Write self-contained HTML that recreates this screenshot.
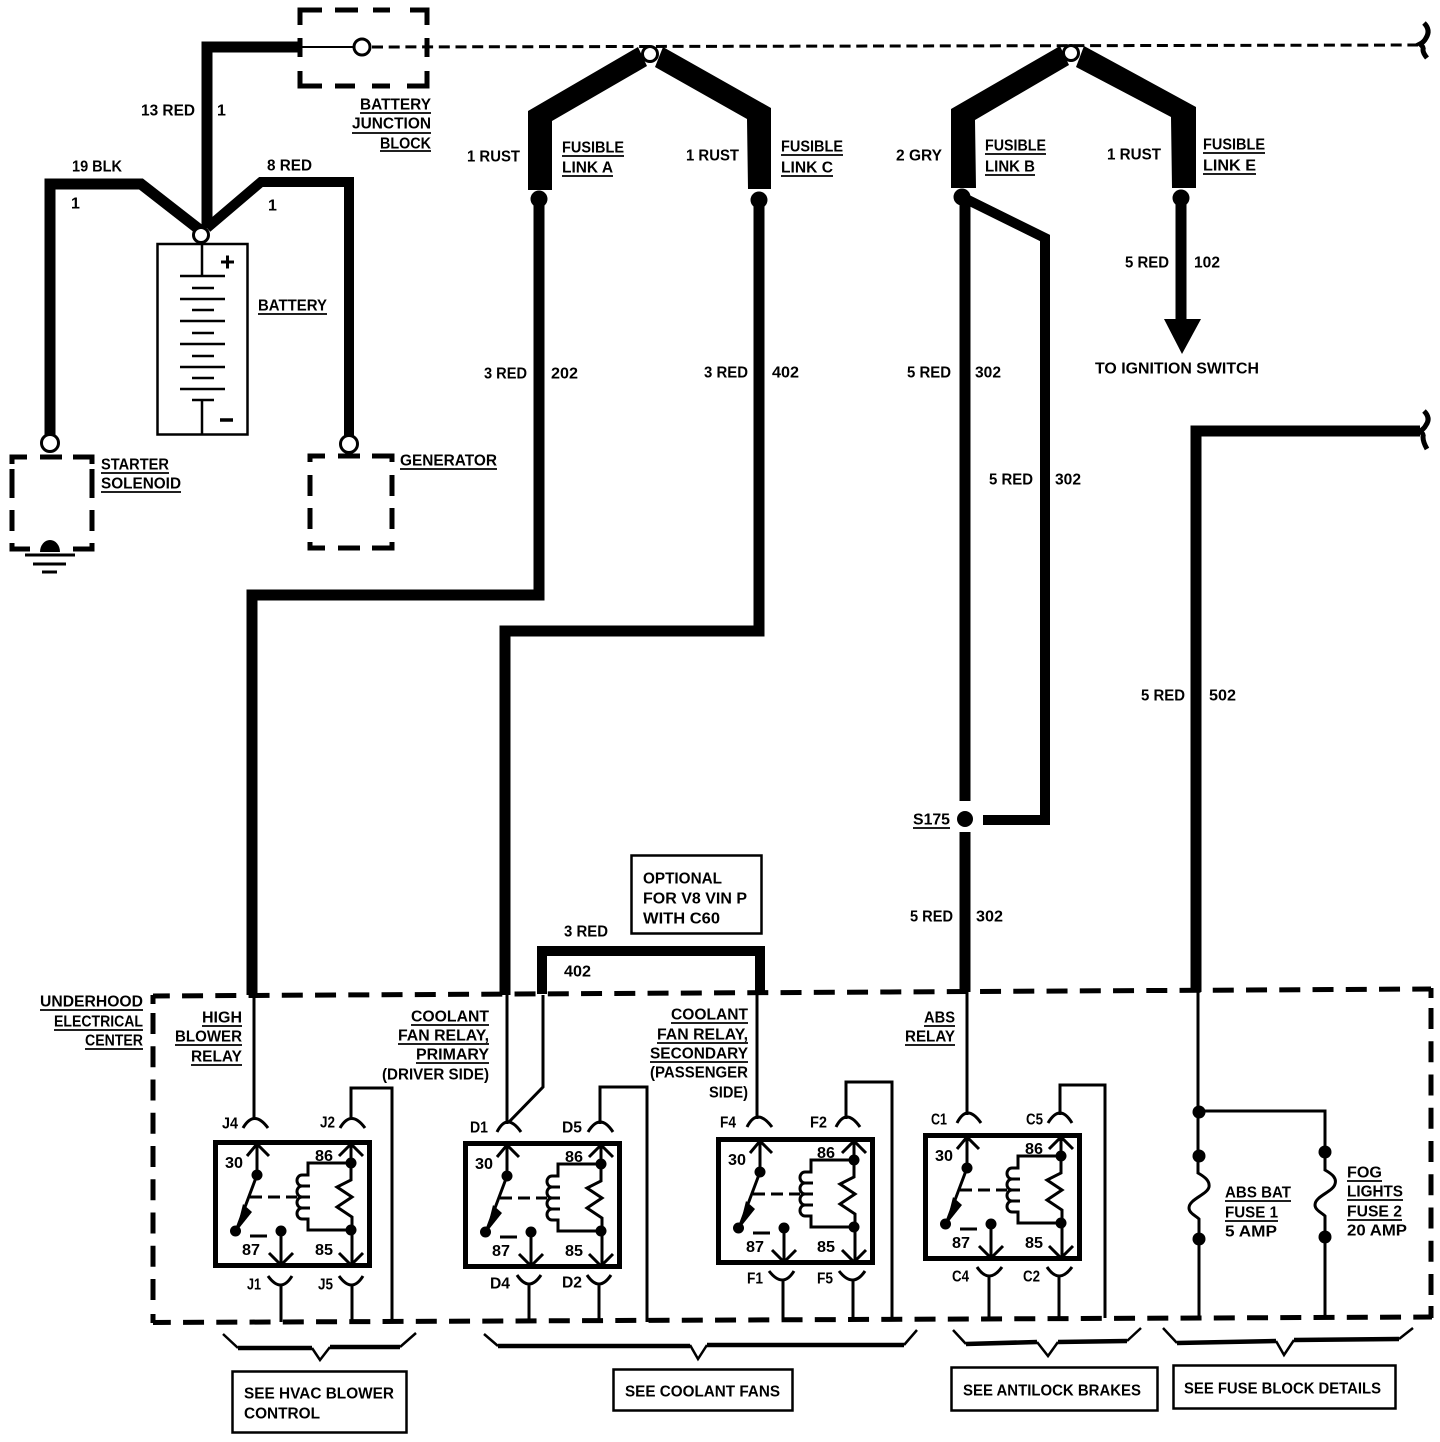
<!DOCTYPE html>
<html><head><meta charset="utf-8"><style>
html,body{margin:0;padding:0;background:#fff}
svg{display:block}
text{font-family:"Liberation Sans",sans-serif;font-weight:bold;font-size:16px;fill:#000}
.w{fill:none;stroke:#000;stroke-linejoin:miter}
.t{fill:none;stroke:#000;stroke-width:3}
.n{fill:none;stroke:#000;stroke-width:2}
.u{fill:none;stroke:#000;stroke-width:1.8}
.d{fill:none;stroke:#000;stroke-width:5;stroke-dasharray:21,12.25}
</style></head><body>
<svg width="1440" height="1442" viewBox="0 0 1440 1442" xmlns="http://www.w3.org/2000/svg">
<rect width="1440" height="1442" fill="#fff"/>

<!-- top dashed bus and braces -->
<path d="M372,47 L1418,45" fill="none" stroke="#000" stroke-width="3" stroke-dasharray="11,5.700"/>
<path class="t" d="M1424,23 Q1431,30 1426,38 Q1424,42 1420,44 Q1424,47 1423,50 Q1423,53 1427,58" style="stroke-width:5"/>
<path class="t" d="M1424,411 Q1431,418 1426,425 Q1424,429 1420,431 Q1424,434 1423,437 Q1423,442 1427,449" style="stroke-width:5"/>

<!-- junction block -->
<path class="w" stroke-width="5" d="M300,25 V10 H322 M335,10 H358 M373,10 H390 M410,10 H427 V25 M300,38 V57 M427,38 V57 M300,71 V86 H322 M335,86 H355 M372,86 H390 M407,86 H427 V71"/>
<path class="n" d="M300,47 H354"/>
<circle cx="362" cy="47" r="8" fill="#fff" stroke="#000" stroke-width="3"/>

<!-- battery wires -->
<path class="w" stroke-width="11" d="M302,47 H207 V228"/>
<path class="w" stroke-width="11" d="M50,435 V184 H141 L200,230"/>
<path class="w" stroke-width="10" d="M207,228 L261,182 H349 V442"/>
<rect x="157.500" y="244" width="90" height="190.500" fill="#fff" stroke="#000" stroke-width="2.500"/>
<circle cx="201" cy="235" r="7.500" fill="#fff" stroke="#000" stroke-width="3"/>
<path class="n" d="M202,243 V276 M180,276 H225 M192,288 H214 M180,299 H225 M192,310 H214 M180,321 H225 M192,333 H214 M180,344 H225 M192,356 H214 M180,367 H225 M192,378 H214 M180,389 H225 M192,400 H214 M202,400 V435" style="stroke-width:2.500"/>
<path d="M221,262 H234 M227.500,255.500 V268.500" fill="none" stroke="#000" stroke-width="3"/>
<path d="M220,420 H233" fill="none" stroke="#000" stroke-width="3.500"/>

<!-- starter -->
<circle cx="50" cy="443" r="8.500" fill="#fff" stroke="#000" stroke-width="3"/>
<path class="w" stroke-width="5" d="M12,464 V457 H27 M40,457 H62 M73,457 H92 V464 M12,469 V498 M92,469 V498 M12,510 V531 M92,510 V531 M12,543 V549 H30 M73,549 H92 V543"/>
<path d="M40,552 A10,12 0 0 1 60,552 Z" fill="#000"/>
<path class="t" d="M25,555 H75 M33,564 H66 M42,572 H57"/>

<!-- generator -->
<circle cx="349" cy="444" r="8.500" fill="#fff" stroke="#000" stroke-width="3"/>
<path class="w" stroke-width="5" d="M310,462 V456 H325 M338,456 H360 M372,456 H392 V462 M310,475 V496 M392,475 V496 M310,508 V529 M392,508 V529 M310,542 V548 H325 M338,548 H360 M372,548 H392 V542"/>

<!-- fusible links A, C -->
<polygon points="638,47 528,111 528,190 552,190 552,121 647,66"/>
<polygon points="663,47 771,108 771,189 748,189 747,119 655,67"/>
<circle cx="650" cy="54" r="7.500" fill="#fff" stroke="#000" stroke-width="3"/>
<circle cx="539" cy="199" r="8.500"/>
<circle cx="759" cy="200" r="8.500"/>
<!-- fusible links B, E -->
<polygon points="1060,46 951,109 951,188 976,188 975,120 1069,65"/>
<polygon points="1084,46 1196,107 1196,188 1172,188 1171,117 1076,67"/>
<circle cx="1071" cy="53" r="7.500" fill="#fff" stroke="#000" stroke-width="3"/>
<circle cx="962" cy="197" r="8.500"/>
<circle cx="1181" cy="198" r="8.500"/>

<!-- long wires -->
<path class="w" stroke-width="11" d="M539,199 V595 H252 V995"/>
<path class="w" stroke-width="11" d="M759,199 V631 H505 V995"/>
<path class="w" stroke-width="11" d="M965,197 V801"/>
<path class="w" stroke-width="10" d="M962,197 L1045,238 V820 H983"/>
<circle cx="965" cy="819" r="8"/>
<path class="w" stroke-width="11" d="M965,832 V992"/>
<path class="w" stroke-width="11" d="M1181,197 V322"/>
<polygon points="1164,319 1201,319 1182,354"/>
<path class="w" stroke-width="11" d="M1196,992 V431 H1420"/>
<path class="w" stroke-width="10" d="M542,994 V951 H760 V992"/>
<rect x="631.500" y="855.500" width="130" height="78" fill="none" stroke="#000" stroke-width="2.500"/>

<!-- underhood dashed box -->
<path class="d" stroke-dashoffset="4.200" d="M153,996 L1431,989"/>
<path class="d" d="M153,1013 V1303"/>
<path class="d" d="M1431,1008 V1298"/>
<path class="d" stroke-dashoffset="3.200" d="M153,1322.500 L1432,1317"/>
<path class="w" stroke-width="5" d="M153,1004 V995 M153,1314 V1323 M1431,998 V988 M1431,1306 V1318"/>

<!-- thin wires -->
<path class="t" d="M254,995 V1120 M351,1120 V1088 H392 V1322"/>
<path class="t" d="M507,995 V1124 M543,995 V1087 L509,1122 M600,1124 V1087 H647 V1322"/>
<path class="t" d="M757,992 V1119 M846,1119 V1082 H892 V1320"/>
<path class="t" d="M967,990 V1115 M1060,1115 V1085 H1105 V1318"/>

<!-- connector arcs top -->
<path class="t" d="M243,1128 Q254,1109 268,1128 M340,1128 Q351,1109 365,1128"/>
<path class="t" d="M497,1132 Q507,1112 521,1132 M588,1132 Q600,1112 613,1132"/>
<path class="t" d="M747,1127 Q757,1107 772,1127 M836,1127 Q846,1107 860,1127"/>
<path class="t" d="M957,1123 Q967,1103 981,1123 M1048,1123 Q1060,1103 1072,1123"/>
<!-- connector arcs bottom -->
<path class="t" d="M268,1276 Q281,1294 292,1276 M339,1276 Q352,1294 363,1276 M281,1285 V1322 M352,1285 V1322"/>
<path class="t" d="M517,1275 Q529,1293 541,1275 M587,1275 Q599,1293 611,1275 M529,1284 V1322 M599,1284 V1322"/>
<path class="t" d="M769,1271 Q783,1289 794,1271 M839,1271 Q853,1289 865,1271 M783,1280 V1320 M853,1280 V1320"/>
<path class="t" d="M977,1267 Q989,1285 1002,1267 M1047,1267 Q1059,1285 1072,1267 M989,1276 V1318 M1059,1276 V1318"/>

<!-- relay J -->
<g transform="translate(0,0)">
<rect x="215.500" y="1142.500" width="154" height="123" fill="none" stroke="#000" stroke-width="5"/>
<path class="t" d="M257,1144 V1175 L236,1231 M247,1156 L257,1144 L269,1156 M351,1144 V1180 L337,1187 L352,1197 L337,1207 L352,1217 V1265 M339,1156 L351,1144 L363,1156 M351,1163 H308 V1175 H302 A5,5.500 0 0 0 302,1186 H310 M302,1186 A5,5.500 0 0 0 302,1197 H310 M302,1197 A5,5.500 0 0 0 302,1208 H310 M302,1208 A5,5.500 0 0 0 302,1219 H308 V1230 H351 M281,1231 V1265 M269,1253 L281,1265 L293,1253 M339,1253 L351,1265 L363,1253 M250,1236 H267"/>
<path class="t" d="M250,1197 H297" stroke-dasharray="12,6"/>
<polygon points="236,1232 243,1204 252,1212"/>
<circle cx="257" cy="1175" r="5.500"/><circle cx="235.500" cy="1231" r="5.500"/><circle cx="281" cy="1231" r="5.500"/><circle cx="351" cy="1163" r="5.500"/><circle cx="351" cy="1230" r="5.500"/>
<text x="225" y="1168" textLength="18" lengthAdjust="spacingAndGlyphs">30</text>
<text x="315" y="1161" textLength="18" lengthAdjust="spacingAndGlyphs">86</text>
<text x="242" y="1255" textLength="18" lengthAdjust="spacingAndGlyphs">87</text>
<text x="315" y="1255" textLength="18" lengthAdjust="spacingAndGlyphs">85</text>
</g>
<!-- relay D -->
<g transform="translate(250,1)">
<rect x="215.500" y="1142.500" width="154" height="123" fill="none" stroke="#000" stroke-width="5"/>
<path class="t" d="M257,1144 V1175 L236,1231 M247,1156 L257,1144 L269,1156 M351,1144 V1180 L337,1187 L352,1197 L337,1207 L352,1217 V1265 M339,1156 L351,1144 L363,1156 M351,1163 H308 V1175 H302 A5,5.500 0 0 0 302,1186 H310 M302,1186 A5,5.500 0 0 0 302,1197 H310 M302,1197 A5,5.500 0 0 0 302,1208 H310 M302,1208 A5,5.500 0 0 0 302,1219 H308 V1230 H351 M281,1231 V1265 M269,1253 L281,1265 L293,1253 M339,1253 L351,1265 L363,1253 M250,1236 H267"/>
<path class="t" d="M250,1197 H297" stroke-dasharray="12,6"/>
<polygon points="236,1232 243,1204 252,1212"/>
<circle cx="257" cy="1175" r="5.500"/><circle cx="235.500" cy="1231" r="5.500"/><circle cx="281" cy="1231" r="5.500"/><circle cx="351" cy="1163" r="5.500"/><circle cx="351" cy="1230" r="5.500"/>
<text x="225" y="1168" textLength="18" lengthAdjust="spacingAndGlyphs">30</text>
<text x="315" y="1161" textLength="18" lengthAdjust="spacingAndGlyphs">86</text>
<text x="242" y="1255" textLength="18" lengthAdjust="spacingAndGlyphs">87</text>
<text x="315" y="1255" textLength="18" lengthAdjust="spacingAndGlyphs">85</text>
</g>
<!-- relay F -->
<g transform="translate(503,-3)">
<rect x="215.500" y="1142.500" width="154" height="123" fill="none" stroke="#000" stroke-width="5"/>
<path class="t" d="M257,1144 V1175 L236,1231 M247,1156 L257,1144 L269,1156 M351,1144 V1180 L337,1187 L352,1197 L337,1207 L352,1217 V1265 M339,1156 L351,1144 L363,1156 M351,1163 H308 V1175 H302 A5,5.500 0 0 0 302,1186 H310 M302,1186 A5,5.500 0 0 0 302,1197 H310 M302,1197 A5,5.500 0 0 0 302,1208 H310 M302,1208 A5,5.500 0 0 0 302,1219 H308 V1230 H351 M281,1231 V1265 M269,1253 L281,1265 L293,1253 M339,1253 L351,1265 L363,1253 M250,1236 H267"/>
<path class="t" d="M250,1197 H297" stroke-dasharray="12,6"/>
<polygon points="236,1232 243,1204 252,1212"/>
<circle cx="257" cy="1175" r="5.500"/><circle cx="235.500" cy="1231" r="5.500"/><circle cx="281" cy="1231" r="5.500"/><circle cx="351" cy="1163" r="5.500"/><circle cx="351" cy="1230" r="5.500"/>
<text x="225" y="1168" textLength="18" lengthAdjust="spacingAndGlyphs">30</text>
<text x="314" y="1161" textLength="18" lengthAdjust="spacingAndGlyphs">86</text>
<text x="243" y="1255" textLength="18" lengthAdjust="spacingAndGlyphs">87</text>
<text x="314" y="1255" textLength="18" lengthAdjust="spacingAndGlyphs">85</text>
</g>
<!-- relay C -->
<g transform="translate(710,-7)">
<rect x="215.500" y="1142.500" width="154" height="123" fill="none" stroke="#000" stroke-width="5"/>
<path class="t" d="M257,1144 V1175 L236,1231 M247,1156 L257,1144 L269,1156 M351,1144 V1180 L337,1187 L352,1197 L337,1207 L352,1217 V1265 M339,1156 L351,1144 L363,1156 M351,1163 H308 V1175 H302 A5,5.500 0 0 0 302,1186 H310 M302,1186 A5,5.500 0 0 0 302,1197 H310 M302,1197 A5,5.500 0 0 0 302,1208 H310 M302,1208 A5,5.500 0 0 0 302,1219 H308 V1230 H351 M281,1231 V1265 M269,1253 L281,1265 L293,1253 M339,1253 L351,1265 L363,1253 M250,1236 H267"/>
<path class="t" d="M250,1197 H297" stroke-dasharray="12,6"/>
<polygon points="236,1232 243,1204 252,1212"/>
<circle cx="257" cy="1175" r="5.500"/><circle cx="235.500" cy="1231" r="5.500"/><circle cx="281" cy="1231" r="5.500"/><circle cx="351" cy="1163" r="5.500"/><circle cx="351" cy="1230" r="5.500"/>
<text x="225" y="1168" textLength="18" lengthAdjust="spacingAndGlyphs">30</text>
<text x="315" y="1161" textLength="18" lengthAdjust="spacingAndGlyphs">86</text>
<text x="242" y="1255" textLength="18" lengthAdjust="spacingAndGlyphs">87</text>
<text x="315" y="1255" textLength="18" lengthAdjust="spacingAndGlyphs">85</text>
</g>

<!-- fuses -->
<path class="t" d="M1198,990 V1173 C1205,1177 1210,1181 1209,1187 C1207,1195 1189,1199 1189,1208 C1189,1213 1196,1216 1199,1219 V1318 M1199,1111 H1325 V1170 C1332,1174 1337,1178 1335,1184 C1333,1192 1315,1196 1315,1205 C1315,1210 1322,1213 1325,1216 V1318"/>
<circle cx="1199" cy="1112" r="6.500"/>
<circle cx="1199" cy="1156" r="6.500"/>
<circle cx="1199" cy="1239" r="6.500"/>
<circle cx="1325" cy="1152" r="6.500"/>
<circle cx="1325" cy="1237" r="6.500"/>

<!-- brackets -->
<path class="w" stroke-width="2.500" d="M223,1334 L238,1348 M312,1348 L320,1360 L330,1347 M400,1347 L416,1333"/>
<path class="w" stroke-width="4.500" d="M238,1348 H312 M330,1347 H400"/>
<path class="w" stroke-width="2.500" d="M484,1334 L498,1346 M690,1345 L698,1359 L707,1345 M904,1345 L917,1330"/>
<path class="w" stroke-width="4.500" d="M498,1346 H690 M707,1345 H904"/>
<path class="w" stroke-width="2.500" d="M953,1330 L966,1344 M1037,1342 L1048,1356 L1058,1342 M1127,1341 L1141,1328"/>
<path class="w" stroke-width="4.500" d="M966,1344 L1037,1342 M1058,1342 L1127,1341"/>
<path class="w" stroke-width="2.500" d="M1163,1328 L1177,1343 M1276,1341 L1284,1355 L1294,1340 M1399,1339 L1413,1328"/>
<path class="w" stroke-width="4.500" d="M1177,1343 L1276,1341 M1294,1340 L1399,1339"/>

<!-- see boxes -->
<rect x="232.500" y="1371.500" width="174" height="61" fill="none" stroke="#000" stroke-width="2.500"/>
<rect x="613.500" y="1369.500" width="179" height="41" fill="none" stroke="#000" stroke-width="2.500"/>
<rect x="951.500" y="1367.500" width="206" height="43" fill="none" stroke="#000" stroke-width="2.500"/>
<rect x="1173.500" y="1365.500" width="222" height="43" fill="none" stroke="#000" stroke-width="2.500"/>

<!-- underlines -->
<path class="u" d="M360,113 H431 M352,133 H431 M380,151 H431 M258,314 H327 M101,473 H169 M101,492 H181 M400,469 H497
M562,156 H624 M562,176 H613 M781,155 H843 M781,176 H833 M985,154 H1046 M985,175 H1035 M1203,153 H1265 M1203,174 H1256
M913,828 H950 M40,1010 H143 M54,1030 H143 M85,1049 H143
M202,1026 H242 M175,1045 H242 M191,1065 H242
M411,1025 H489 M398,1044 H489 M416,1063 H489
M671,1023 H748 M657,1043 H748 M650,1062 H748
M924,1026 H955 M905,1045 H955
M1225,1201 H1291 M1225,1221 H1278 M1347,1181 H1382 M1347,1200 H1403 M1347,1220 H1402"/>

<!-- labels -->
<g transform="translate(0,0.5)">
<text x="141" y="115" textLength="54" lengthAdjust="spacingAndGlyphs">13 RED</text>
<text x="217" y="115">1</text>
<text x="360" y="109" textLength="71" lengthAdjust="spacingAndGlyphs">BATTERY</text>
<text x="352" y="128" textLength="79" lengthAdjust="spacingAndGlyphs">JUNCTION</text>
<text x="380" y="148" textLength="51" lengthAdjust="spacingAndGlyphs">BLOCK</text>
<text x="72" y="171" textLength="50" lengthAdjust="spacingAndGlyphs">19 BLK</text>
<text x="71" y="208">1</text>
<text x="267" y="170" textLength="45" lengthAdjust="spacingAndGlyphs">8 RED</text>
<text x="268" y="210">1</text>
<text x="258" y="310" textLength="69" lengthAdjust="spacingAndGlyphs">BATTERY</text>
<text x="101" y="469" textLength="68" lengthAdjust="spacingAndGlyphs">STARTER</text>
<text x="101" y="488" textLength="80" lengthAdjust="spacingAndGlyphs">SOLENOID</text>
<text x="400" y="465" textLength="97" lengthAdjust="spacingAndGlyphs">GENERATOR</text>
<text x="467" y="161" textLength="53" lengthAdjust="spacingAndGlyphs">1 RUST</text>
<text x="562" y="152" textLength="62" lengthAdjust="spacingAndGlyphs">FUSIBLE</text>
<text x="562" y="172" textLength="51" lengthAdjust="spacingAndGlyphs">LINK A</text>
<text x="686" y="160" textLength="53" lengthAdjust="spacingAndGlyphs">1 RUST</text>
<text x="781" y="151" textLength="62" lengthAdjust="spacingAndGlyphs">FUSIBLE</text>
<text x="781" y="172" textLength="52" lengthAdjust="spacingAndGlyphs">LINK C</text>
<text x="896" y="160" textLength="46" lengthAdjust="spacingAndGlyphs">2 GRY</text>
<text x="985" y="150" textLength="61" lengthAdjust="spacingAndGlyphs">FUSIBLE</text>
<text x="985" y="171" textLength="50" lengthAdjust="spacingAndGlyphs">LINK B</text>
<text x="1107" y="159" textLength="54" lengthAdjust="spacingAndGlyphs">1 RUST</text>
<text x="1203" y="149" textLength="62" lengthAdjust="spacingAndGlyphs">FUSIBLE</text>
<text x="1203" y="170" textLength="53" lengthAdjust="spacingAndGlyphs">LINK E</text>
<text x="484" y="378" textLength="43" lengthAdjust="spacingAndGlyphs">3 RED</text>
<text x="551" y="378" textLength="27" lengthAdjust="spacingAndGlyphs">202</text>
<text x="704" y="377" textLength="44" lengthAdjust="spacingAndGlyphs">3 RED</text>
<text x="772" y="377" textLength="27" lengthAdjust="spacingAndGlyphs">402</text>
<text x="907" y="377" textLength="44" lengthAdjust="spacingAndGlyphs">5 RED</text>
<text x="975" y="377" textLength="26" lengthAdjust="spacingAndGlyphs">302</text>
<text x="989" y="484" textLength="44" lengthAdjust="spacingAndGlyphs">5 RED</text>
<text x="1055" y="484" textLength="26" lengthAdjust="spacingAndGlyphs">302</text>
<text x="1125" y="267" textLength="44" lengthAdjust="spacingAndGlyphs">5 RED</text>
<text x="1194" y="267" textLength="26" lengthAdjust="spacingAndGlyphs">102</text>
<text x="1095" y="373" textLength="164" lengthAdjust="spacingAndGlyphs">TO IGNITION SWITCH</text>
<text x="1141" y="700" textLength="44" lengthAdjust="spacingAndGlyphs">5 RED</text>
<text x="1209" y="700" textLength="27" lengthAdjust="spacingAndGlyphs">502</text>
<text x="913" y="824" textLength="37" lengthAdjust="spacingAndGlyphs">S175</text>
<text x="910" y="921" textLength="43" lengthAdjust="spacingAndGlyphs">5 RED</text>
<text x="976" y="921" textLength="27" lengthAdjust="spacingAndGlyphs">302</text>
<text x="643" y="883" textLength="79" lengthAdjust="spacingAndGlyphs">OPTIONAL</text>
<text x="643" y="903" textLength="104" lengthAdjust="spacingAndGlyphs">FOR V8  VIN P</text>
<text x="643" y="923" textLength="77" lengthAdjust="spacingAndGlyphs">WITH C60</text>
<text x="564" y="936" textLength="44" lengthAdjust="spacingAndGlyphs">3 RED</text>
<text x="564" y="976" textLength="27" lengthAdjust="spacingAndGlyphs">402</text>
<text x="40" y="1006" textLength="103" lengthAdjust="spacingAndGlyphs">UNDERHOOD</text>
<text x="54" y="1026" textLength="89" lengthAdjust="spacingAndGlyphs">ELECTRICAL</text>
<text x="85" y="1045" textLength="58" lengthAdjust="spacingAndGlyphs">CENTER</text>
<text x="202" y="1022" textLength="40" lengthAdjust="spacingAndGlyphs">HIGH</text>
<text x="175" y="1041" textLength="67" lengthAdjust="spacingAndGlyphs">BLOWER</text>
<text x="191" y="1061" textLength="51" lengthAdjust="spacingAndGlyphs">RELAY</text>
<text x="411" y="1021" textLength="78" lengthAdjust="spacingAndGlyphs">COOLANT</text>
<text x="398" y="1040" textLength="91" lengthAdjust="spacingAndGlyphs">FAN RELAY,</text>
<text x="416" y="1059" textLength="73" lengthAdjust="spacingAndGlyphs">PRIMARY</text>
<text x="382" y="1079" textLength="107" lengthAdjust="spacingAndGlyphs">(DRIVER SIDE)</text>
<text x="671" y="1019" textLength="77" lengthAdjust="spacingAndGlyphs">COOLANT</text>
<text x="657" y="1039" textLength="91" lengthAdjust="spacingAndGlyphs">FAN RELAY,</text>
<text x="650" y="1058" textLength="98" lengthAdjust="spacingAndGlyphs">SECONDARY</text>
<text x="650" y="1077" textLength="98" lengthAdjust="spacingAndGlyphs">(PASSENGER</text>
<text x="709" y="1097" textLength="39" lengthAdjust="spacingAndGlyphs">SIDE)</text>
<text x="924" y="1022" textLength="31" lengthAdjust="spacingAndGlyphs">ABS</text>
<text x="905" y="1041" textLength="50" lengthAdjust="spacingAndGlyphs">RELAY</text>
<text x="1225" y="1197" textLength="66" lengthAdjust="spacingAndGlyphs">ABS BAT</text>
<text x="1225" y="1217" textLength="53" lengthAdjust="spacingAndGlyphs">FUSE 1</text>
<text x="1225" y="1236" textLength="52" lengthAdjust="spacingAndGlyphs">5 AMP</text>
<text x="1347" y="1177" textLength="35" lengthAdjust="spacingAndGlyphs">FOG</text>
<text x="1347" y="1196" textLength="56" lengthAdjust="spacingAndGlyphs">LIGHTS</text>
<text x="1347" y="1216" textLength="55" lengthAdjust="spacingAndGlyphs">FUSE 2</text>
<text x="1347" y="1235" textLength="60" lengthAdjust="spacingAndGlyphs">20 AMP</text>
<text x="222" y="1128" textLength="16" lengthAdjust="spacingAndGlyphs">J4</text>
<text x="320" y="1127" textLength="15" lengthAdjust="spacingAndGlyphs">J2</text>
<text x="470" y="1132" textLength="18" lengthAdjust="spacingAndGlyphs">D1</text>
<text x="562" y="1132" textLength="20" lengthAdjust="spacingAndGlyphs">D5</text>
<text x="720" y="1127" textLength="16" lengthAdjust="spacingAndGlyphs">F4</text>
<text x="810" y="1127" textLength="17" lengthAdjust="spacingAndGlyphs">F2</text>
<text x="931" y="1124" textLength="16" lengthAdjust="spacingAndGlyphs">C1</text>
<text x="1026" y="1124" textLength="17" lengthAdjust="spacingAndGlyphs">C5</text>
<text x="247" y="1289" textLength="14" lengthAdjust="spacingAndGlyphs">J1</text>
<text x="318" y="1289" textLength="15" lengthAdjust="spacingAndGlyphs">J5</text>
<text x="490" y="1288" textLength="20" lengthAdjust="spacingAndGlyphs">D4</text>
<text x="562" y="1287" textLength="20" lengthAdjust="spacingAndGlyphs">D2</text>
<text x="747" y="1283" textLength="16" lengthAdjust="spacingAndGlyphs">F1</text>
<text x="817" y="1283" textLength="16" lengthAdjust="spacingAndGlyphs">F5</text>
<text x="952" y="1281" textLength="17" lengthAdjust="spacingAndGlyphs">C4</text>
<text x="1023" y="1281" textLength="17" lengthAdjust="spacingAndGlyphs">C2</text>
<text x="244" y="1398" textLength="150" lengthAdjust="spacingAndGlyphs">SEE HVAC BLOWER</text>
<text x="244" y="1418" textLength="76" lengthAdjust="spacingAndGlyphs">CONTROL</text>
<text x="625" y="1396" textLength="155" lengthAdjust="spacingAndGlyphs">SEE COOLANT FANS</text>
<text x="963" y="1395" textLength="178" lengthAdjust="spacingAndGlyphs">SEE ANTILOCK BRAKES</text>
<text x="1184" y="1393" textLength="197" lengthAdjust="spacingAndGlyphs">SEE FUSE BLOCK DETAILS</text>
</g>
</svg>
</body></html>
